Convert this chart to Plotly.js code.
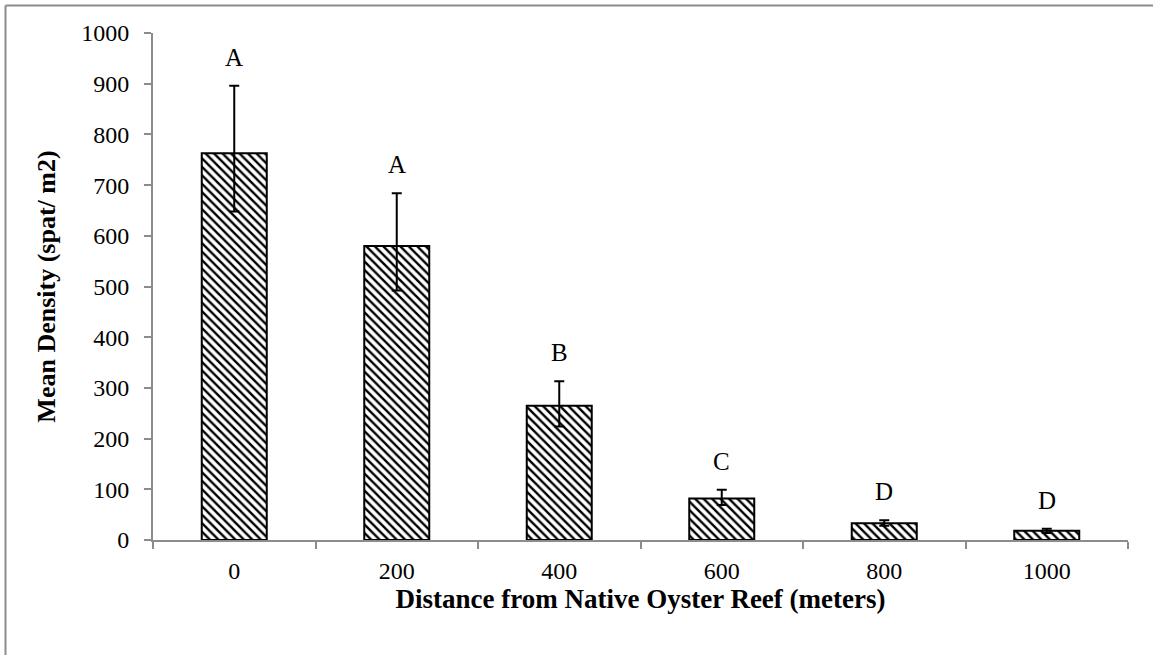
<!DOCTYPE html>
<html>
<head>
<meta charset="utf-8">
<script src="https://cdn.plot.ly/plotly-3.0.1.min.js"></script>
<style>
  html, body { margin: 0; padding: 0; background: #fff; }
  #chart { width: 1153px; height: 655px; }
</style>
</head>
<body>
<div id="chart"></div>
<script>
// Data
const distances = [0, 200, 400, 600, 800, 1000];
const meanDensity = [763, 580, 265, 82, 33, 18];
const errorPlus = [133, 104, 48, 17, 6, 4];
const errorMinus = [115, 88, 41, 13, 5, 4];
const groupLetters = ['A', 'A', 'B', 'C', 'D', 'D'];
const yTicks = [0, 100, 200, 300, 400, 500, 600, 700, 800, 900, 1000];

const serif = 'Liberation Serif, Times New Roman, serif';
const axisGray = '#8c8c8c';
const step = distances[1] - distances[0];

const trace = {
  type: 'bar',
  x: distances,
  y: meanDensity,
  width: step * 0.4,
  marker: {
    color: '#ffffff',
    line: { color: '#000000', width: 2 },
    pattern: { shape: '\\', fgcolor: '#000000', bgcolor: '#ffffff', size: 6, solidity: 0.4 }
  },
  error_y: {
    type: 'data',
    symmetric: false,
    array: errorPlus,
    arrayminus: errorMinus,
    color: '#000000',
    thickness: 2,
    width: 5
  },
  hoverinfo: 'x+y'
};

const annotations = distances.map((d, i) => ({
  x: d,
  y: meanDensity[i] + errorPlus[i],
  xref: 'x', yref: 'y',
  text: groupLetters[i],
  showarrow: false,
  yanchor: 'bottom',
  yshift: 13,
  font: { family: serif, size: 25, color: '#000' }
}));

const layout = {
  width: 1153,
  height: 655,
  margin: { l: 153, r: 25, t: 33, b: 115 },
  paper_bgcolor: '#ffffff',
  plot_bgcolor: '#ffffff',
  showlegend: false,
  font: { family: serif, color: '#000' },
  xaxis: {
    type: 'linear',
    range: [distances[0] - step / 2, distances[distances.length - 1] + step / 2],
    tickvals: distances,
    ticktext: distances.map(String),
    ticks: '',
    ticklabelstandoff: 8,
    minor: {
      tick0: distances[0] - step / 2,
      dtick: step,
      ticks: 'outside',
      ticklen: 7,
      tickwidth: 2,
      tickcolor: axisGray,
      showgrid: false
    },
    showline: true,
    linecolor: axisGray,
    linewidth: 2,
    showgrid: false,
    zeroline: false,
    tickfont: { family: serif, size: 24, color: '#000' },
    title: {
      text: '<b>Distance from Native Oyster Reef (meters)</b>',
      font: { family: serif, size: 27, color: '#000' },
      standoff: 0
    }
  },
  yaxis: {
    range: [0, 1000],
    tickvals: yTicks,
    ticktext: yTicks.map(String),
    ticks: 'outside',
    ticklen: 7,
    tickwidth: 2,
    tickcolor: axisGray,
    ticklabelstandoff: 10,
    showline: true,
    linecolor: axisGray,
    linewidth: 2,
    showgrid: false,
    zeroline: false,
    tickfont: { family: serif, size: 24, color: '#000' },
    title: {
      text: '<b>Mean Density (spat/ m2)</b>',
      font: { family: serif, size: 26, color: '#000' },
      standoff: 18
    }
  },
  annotations: annotations,
  shapes: [
    { type: 'line', xref: 'paper', yref: 'paper',
      x0: (5.5 - 153) / 975, x1: (5.5 - 153) / 975,
      y0: (540 - 5.5) / 507, y1: (540 - 660) / 507,
      line: { color: axisGray, width: 2 } },
    { type: 'line', xref: 'paper', yref: 'paper',
      x0: (5.5 - 153) / 975, x1: (1160 - 153) / 975,
      y0: (540 - 5.5) / 507, y1: (540 - 5.5) / 507,
      line: { color: axisGray, width: 2 } }
  ]
};

Plotly.newPlot('chart', [trace], layout, { displayModeBar: false, staticPlot: true });
</script>
</body>
</html>
